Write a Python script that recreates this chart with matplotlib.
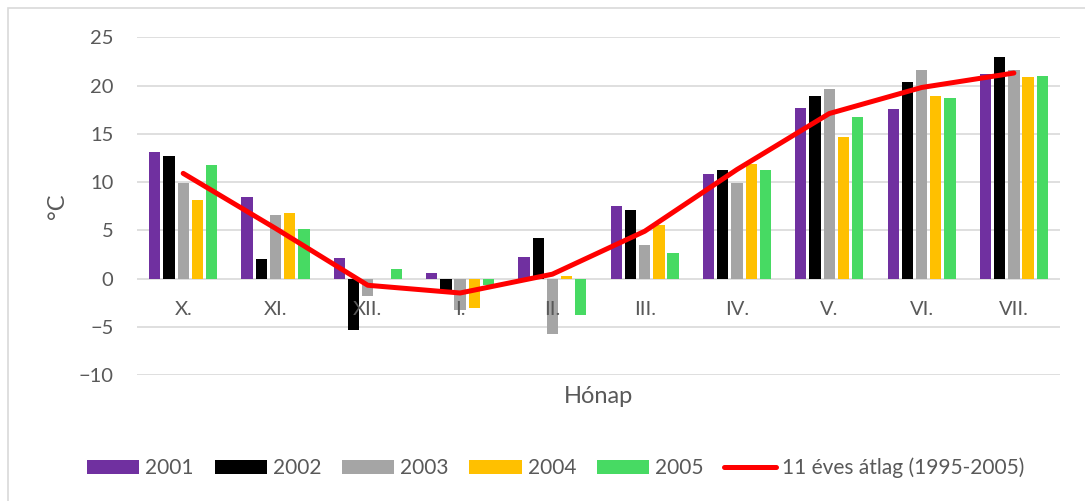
import numpy as np
import matplotlib
matplotlib.use("Agg")
import matplotlib.pyplot as plt
from matplotlib.patches import Rectangle

plt.rcParams['font.family'] = ['Lato', 'DejaVu Sans']

# monthly mean temperatures (°C), October -> July
months = ["X.", "XI.", "XII.", "I.", "II.", "III.", "IV.", "V.", "VI.", "VII."]
years = ["2001", "2002", "2003", "2004", "2005"]
t2001 = [13.1, 8.4, 2.15, 0.55, 2.25, 7.55, 10.8, 17.65, 17.55, 21.25]
t2002 = [12.7, 2.0, -5.35, -1.15, 4.15, 7.15, 11.25, 18.9, 20.35, 23.0]
t2003 = [9.85, 6.55, -1.8, -3.3, -5.8, 3.5, 9.95, 19.6, 21.65, 21.65]
t2004 = [8.1, 6.75, 0.0, -3.05, 0.25, 5.5, 11.85, 14.65, 18.95, 20.85]
t2005 = [11.75, 5.1, 0.95, -0.7, -3.75, 2.6, 11.2, 16.7, 18.75, 20.95]
avg_11y = [10.9, 5.2, -0.7, -1.5, 0.45, 4.9, 11.3, 17.1, 19.8, 21.3]
yticks = [-10, -5, 0, 5, 10, 15, 20, 25]

series = [t2001, t2002, t2003, t2004, t2005]
colors = ["#7030A0", "#000000", "#A5A5A5", "#FFC000", "#47DA63"]
text_col = "#595959"

fig = plt.figure(figsize=(10.85, 5.01), dpi=100)
ax = fig.add_axes([0.1263, 0.2515, 0.8507, 0.674])

x = np.arange(len(months))
step = 0.154
width = 0.122
for i, (vals, col, lab) in enumerate(zip(series, colors, years)):
    ax.bar(x + (i - 2) * step, vals, width, color=col, label=lab, zorder=3)

ax.plot(x, avg_11y, color="#FF0000", lw=3.6, solid_capstyle="round",
        label="11 éves átlag (1995-2005)", zorder=4)

ax.set_xlim(-0.5, len(months) - 0.5)
ax.set_ylim(-10, 25)
ax.set_yticks(yticks)
ax.yaxis.grid(True, color="#D9D9D9", lw=1.2, zorder=0)
ax.tick_params(axis="y", length=0, pad=17, labelsize=14.5, labelcolor=text_col)

# category axis crosses at zero, its labels sit on top of the bars
ax.spines["bottom"].set_position(("data", 0))
for s in ["top", "right", "left", "bottom"]:
    ax.spines[s].set_visible(False)
ax.set_xticks(x)
ax.set_xticklabels(months)
ax.tick_params(axis="x", length=0, pad=16, labelsize=14.5, labelcolor=text_col)
ax.xaxis.set_zorder(3.5)

ax.set_ylabel("°C", fontsize=17, color=text_col)
ax.yaxis.set_label_coords(-0.0748, 0.5)
ax.text(0.5, -0.065, "Hónap", transform=ax.transAxes, ha="center",
        va="center", fontsize=17, color=text_col)

handles, labels = ax.get_legend_handles_labels()
order = [1, 2, 3, 4, 5, 0]
leg = fig.legend([handles[k] for k in order], [labels[k] for k in order],
                 loc="center", bbox_to_anchor=(0.5124, 0.066), ncol=6,
                 frameon=False, fontsize=15, handlelength=2.5,
                 handleheight=0.64, handletextpad=0.29, columnspacing=1.0)
for t in leg.get_texts():
    t.set_color(text_col)

# chart area border
fig.patches.append(Rectangle((8 / 1085, -0.1), 1.2, 1 - 8 / 501 + 0.1,
                             transform=fig.transFigure, fill=False,
                             edgecolor="#D9D9D9", lw=1.2))

fig.savefig("out.png", dpi=100)
